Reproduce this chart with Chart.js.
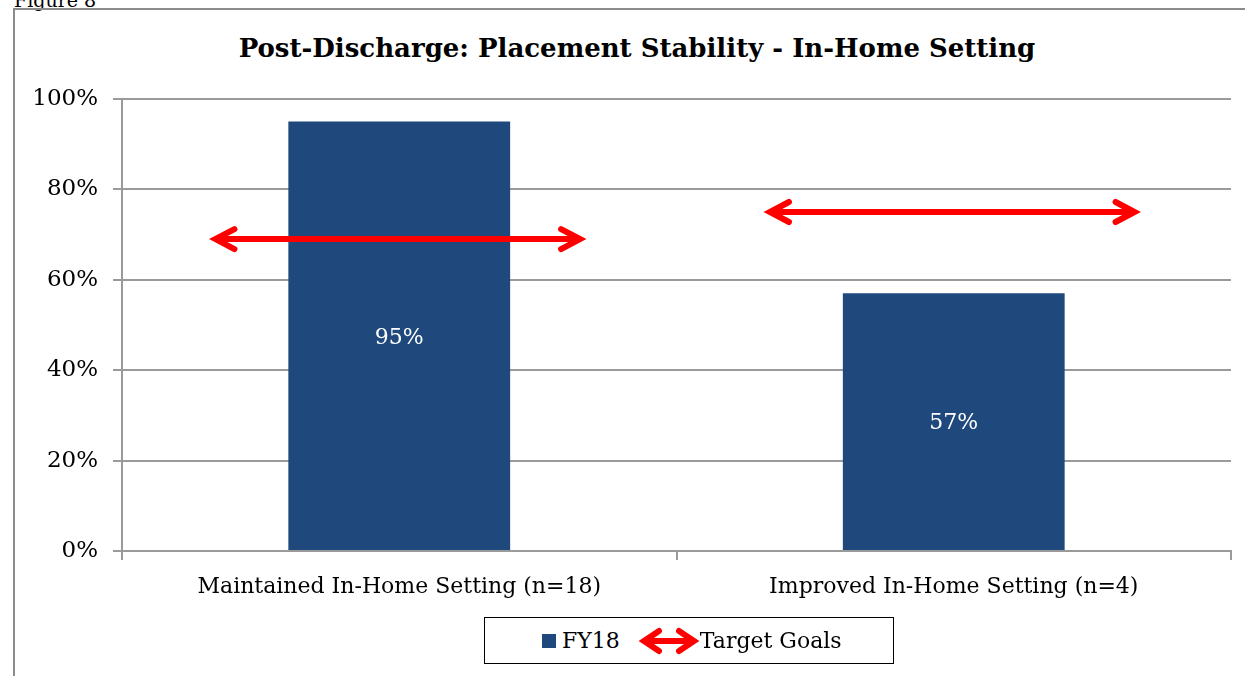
<!DOCTYPE html>
<html>
<head>
<meta charset="utf-8">
<script src="https://cdn.jsdelivr.net/npm/chart.js@4.4.0/dist/chart.umd.min.js"></script>
<style>
    html, body { margin: 0; padding: 0; background: #fff; overflow: hidden; }
    body { width: 1245px; height: 676px; position: relative; font-family: "DejaVu Serif", serif; }
    #figLabel { position: absolute; left: 14px; top: -11px; font-size: 19px; color: #000; }
    #frame { position: absolute; left: 13px; top: 8px; width: 1260px; height: 700px; border: 2px solid #8c8c8c; box-sizing: border-box; background: transparent; }
    #title { position: absolute; left: 13px; width: 1248px; top: 33px; text-align: center; font-weight: bold; font-size: 26px; color: #000; }
    #wrap { position: absolute; left: 0; top: 0; width: 1245px; height: 676px; }
    #legend { position: absolute; left: 484px; top: 617px; width: 410px; height: 47px; border: 1.5px solid #000; box-sizing: border-box;
              display: flex; align-items: center; justify-content: flex-start; padding-left: 57px; font-size: 22px; background: #fff; }
    #legend .sq { display: inline-block; width: 14px; height: 14px; background: #1F497D; margin-right: 6px; }
    #legend canvas { margin: 0 0 0 18px; }
</style>
</head>
<body>
<div id="figLabel">Figure 8</div>
<div id="frame"></div>
<div id="title">Post-Discharge: Placement Stability - In-Home Setting</div>
<div id="wrap"><canvas id="chart"></canvas></div>
<div id="legend"><span class="sq"></span><span>FY18</span><canvas id="legArrow" width="62" height="30"></canvas><span>Target Goals</span></div>
<script>
const categories = ['Maintained In-Home Setting (n=18)', 'Improved In-Home Setting (n=4)'];
const fy18 = [95, 57];
const targetGoals = [69, 75];
const yTicks = [0, 20, 40, 60, 80, 100];

const barColor = '#1F497D';
const arrowColor = '#FF0000';
const gridColor = '#9a9a9a';
const fontFamily = '"DejaVu Serif", serif';

function drawArrow(ctx, x1, x2, y, head, spread, width) {
    ctx.save();
    ctx.strokeStyle = arrowColor;
    ctx.lineWidth = width;
    ctx.lineCap = 'round';
    ctx.lineJoin = 'miter';
    ctx.miterLimit = 10;
    ctx.beginPath();
    ctx.moveTo(x1 + 6, y);
    ctx.lineTo(x2 - 6, y);
    ctx.stroke();
    ctx.beginPath();
    ctx.moveTo(x1 + head, y - spread);
    ctx.lineTo(x1 + 4, y);
    ctx.lineTo(x1 + head, y + spread);
    ctx.moveTo(x2 - head, y - spread);
    ctx.lineTo(x2 - 4, y);
    ctx.lineTo(x2 - head, y + spread);
    ctx.stroke();
    ctx.restore();
}

// legend arrow icon
(function () {
    const c = document.getElementById('legArrow').getContext('2d');
    drawArrow(c, 2, 60, 15, 19, 10, 6);
})();

// draws bar value labels and the target arrows from the chart's own scales
const overlayPlugin = {
    id: 'overlay',
    afterDatasetsDraw(chart) {
        const ctx = chart.ctx;
        const xs = chart.scales.x;
        const ys = chart.scales.y;
        const barMeta = chart.getDatasetMeta(0);
        ctx.save();
        ctx.fillStyle = '#ffffff';
        ctx.font = '22px ' + fontFamily;
        ctx.textAlign = 'center';
        ctx.textBaseline = 'middle';
        barMeta.data.forEach((bar, i) => {
            const mid = (bar.y + bar.base) / 2;
            ctx.fillText(fy18[i] + '%', bar.x, mid + 2);
        });
        ctx.restore();

        const catWidth = xs.getPixelForValue(1) - xs.getPixelForValue(0);
        targetGoals.forEach((v, i) => {
            const cx = xs.getPixelForValue(i) - 1.5;
            const half = catWidth * 0.336;
            drawArrow(ctx, cx - half, cx + half, ys.getPixelForValue(v), 23, 10, 6);
        });
    }
};

new Chart(document.getElementById('chart'), {
    type: 'bar',
    data: {
        labels: categories,
        datasets: [{
            label: 'FY18',
            data: fy18,
            backgroundColor: barColor,
            categoryPercentage: 1,
            barPercentage: 0.4
        }]
    },
    options: {
        responsive: true,
        maintainAspectRatio: false,
        animation: false,
        layout: { padding: { top: 99, right: 14, left: 0, bottom: 0 } },
        plugins: {
            legend: { display: false },
            tooltip: { enabled: false }
        },
        scales: {
            x: {
                offset: true,
                grid: {
                    offset: true,
                    drawOnChartArea: false,
                    drawTicks: true,
                    tickLength: 9,
                    color: gridColor,
                    lineWidth: 2
                },
                border: { color: gridColor, width: 2 },
                ticks: {
                    color: '#000',
                    font: { family: fontFamily, size: 22 },
                    padding: 14,
                    maxRotation: 0
                },
                afterFit(scale) { scale.height = 676 - 551; }
            },
            y: {
                min: 0,
                max: 100,
                afterBuildTicks(scale) { scale.ticks = yTicks.map(v => ({ value: v })); },
                grid: {
                    color: gridColor,
                    lineWidth: 2,
                    tickLength: 9
                },
                border: { color: gridColor, width: 2 },
                ticks: {
                    color: '#000',
                    font: { family: fontFamily, size: 23 },
                    padding: 15,
                    callback: v => v + '%'
                },
                afterFit(scale) { scale.width = 122; }
            }
        }
    },
    plugins: [overlayPlugin]
});
</script>
</body>
</html>
